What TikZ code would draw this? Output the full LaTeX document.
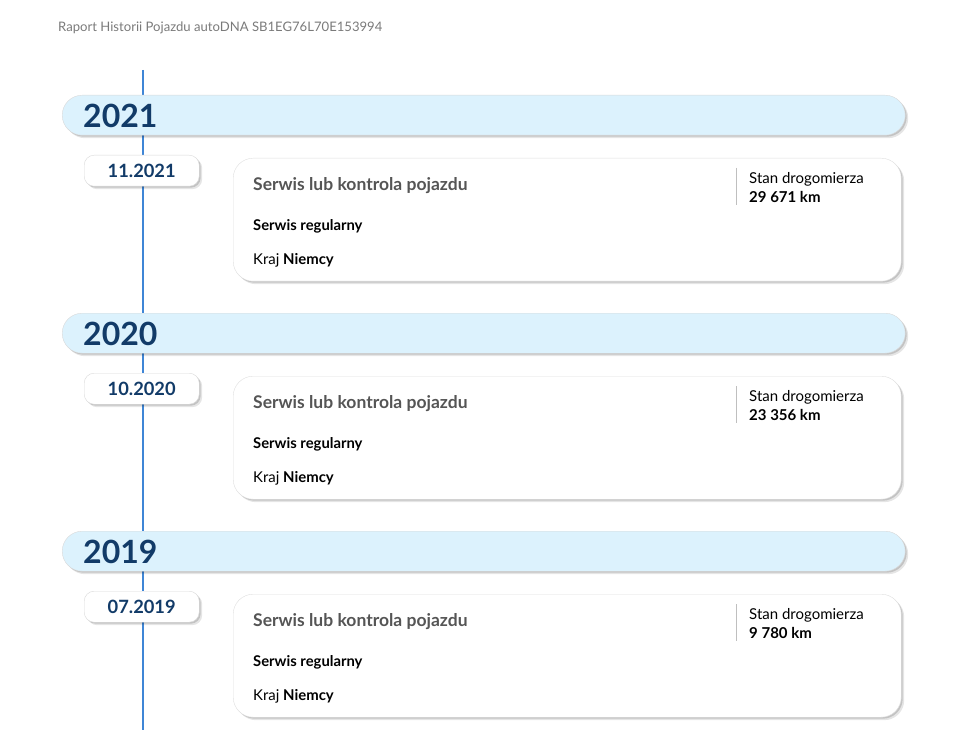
\documentclass[tikz,border=0pt]{standalone}
\usepackage{fontspec}
\setmainfont{Lato}
\usetikzlibrary{shadows}
\definecolor{navy}{HTML}{123B68}
\definecolor{lineblue}{HTML}{3F86D6}
\definecolor{barfill}{HTML}{DCF2FD}
\definecolor{headgray}{HTML}{7A7A7A}
\definecolor{titlegray}{HTML}{555555}
\tikzset{
  softshadow/.style = {drop shadow={shadow xshift=3pt, shadow yshift=-3pt, fill=black, opacity=0.10},
                       drop shadow={shadow xshift=1.5pt, shadow yshift=-1.5pt, fill=black, opacity=0.15}},
  yearbar/.style = {draw=gray!30, fill=barfill, rounded corners=20pt, minimum width=843pt, minimum height=40pt, inner sep=0pt, anchor=north west, softshadow},
  datebox/.style = {draw=gray!30, fill=white, rounded corners=10pt, minimum width=115pt, minimum height=31pt, inner sep=0pt, anchor=north west, softshadow, text=navy, font=\fontsize{18.3}{20}\selectfont\bfseries},
  card/.style = {draw=gray!25, fill=white, rounded corners=20pt, minimum width=668pt, minimum height=123pt, anchor=north west, softshadow},
  txt/.style = {anchor=west, inner sep=0pt}
}
\begin{document}
\begin{tikzpicture}[x=1pt,y=-1pt]
  \useasboundingbox (0,0) rectangle (967,730);
  \node[txt, text=headgray, font=\fontsize{13.1}{16}\selectfont] (header) at (58,28) {Raport Historii Pojazdu autoDNA SB1EG76L70E153994};
  \coordinate (top) at (143,70);
  \coordinate (bottom) at (143,730);
  \draw[lineblue, line width=1.6pt] (top) -- (bottom);
  \foreach \yr/\mon/\km [count=\i from 0] in {2021/11/29 671, 2020/10/23 356, 2019/07/9 780} {
    \begin{scope}[shift={(0,218*\i)}]
      \node[yearbar] (bar\yr) at (62,95) {};
      \node[txt, text=navy, font=\fontsize{32}{38}\selectfont\bfseries] (year\yr) at (83,115.5) {\yr};
      \node[datebox] (date\yr) at (84,155) {\mon.\yr};
      \node[card] (card\yr) at (233,158) {};
      \node[txt, text=titlegray, font=\fontsize{17.5}{20}\selectfont\bfseries] (kind\yr) at (253,186) {Serwis lub kontrola pojazdu};
      \node[txt, font=\fontsize{14.8}{17}\selectfont\bfseries] (type\yr) at (253,226) {Serwis regularny};
      \node[txt, font=\fontsize{14.9}{17}\selectfont] (land\yr) at (253,260) {Kraj \textbf{Niemcy}};
      \draw[gray!50] (736,168) -- (736,205);
      \node[txt, font=\fontsize{15}{17}\selectfont] (odo\yr) at (749,179) {Stan drogomierza};
      \node[txt, font=\fontsize{15}{17}\selectfont\bfseries] (km\yr) at (749,197) {\km{} km};
    \end{scope}
  }
\end{tikzpicture}
\end{document}
